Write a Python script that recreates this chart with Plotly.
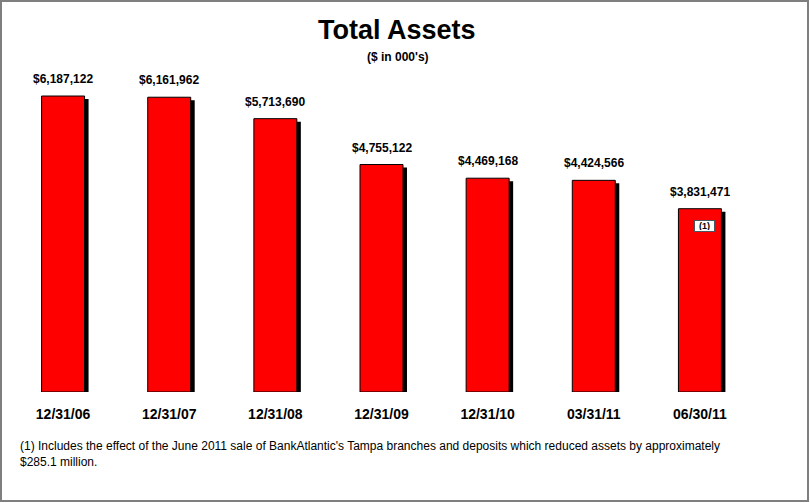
import plotly.graph_objects as go

categories = ["12/31/06", "12/31/07", "12/31/08", "12/31/09", "12/31/10", "03/31/11", "06/30/11"]
total_assets = [6187122, 6161962, 5713690, 4755122, 4469168, 4424566, 3831471]
value_labels = ["$6,187,122", "$6,161,962", "$5,713,690", "$4,755,122", "$4,469,168", "$4,424,566", "$3,831,471"]
footnote = ("(1) Includes the effect of the June 2011 sale of BankAtlantic's Tampa branches and deposits "
            "which reduced assets by approximately<br>$285.1 million.")

FONT = "Liberation Sans, Arial, sans-serif"
W, H = 810, 503
ML, MR, MT, MB = 10, 57, 60, 111
plot_w = W - ML - MR
plot_h = H - MT - MB
base_px = H - MB
y_top = 6940000
px_per_unit = plot_h / y_top


def px_x(px):
    return (px - ML) / plot_w


def px_y(py):
    return (base_px - py) / plot_h


bar_w = 0.405
shadow_dx = 4 / (plot_w / len(categories))
shadow_dy = 3 / px_per_unit

fig = go.Figure()
# drop shadow
fig.add_trace(go.Bar(
    x=categories, y=[v - shadow_dy for v in total_assets],
    width=bar_w, offset=-bar_w / 2 + shadow_dx,
    marker=dict(color="#000000", line=dict(width=0)),
    hoverinfo="skip", showlegend=False,
))
fig.add_trace(go.Bar(
    x=categories, y=total_assets,
    width=bar_w, offset=-bar_w / 2,
    marker=dict(color="#FF0000", line=dict(color="#000000", width=1)),
    showlegend=False,
))

annotations = []
for c, v, lab in zip(categories, total_assets, value_labels):
    annotations.append(dict(
        x=c, y=v, xref="x", yref="y", text="<b>" + lab + "</b>", showarrow=False,
        yanchor="bottom", yshift=8,
        font=dict(family=FONT, size=12, color="#000000"),
    ))
# note marker on last bar
annotations.append(dict(
    x=categories[-1], y=total_assets[-1], xref="x", yref="y", text="<b>(1)</b>", showarrow=False,
    yanchor="middle", xshift=5, yshift=-17, width=17, height=8,
    bgcolor="#FFFFFF", bordercolor="#4A5560", borderwidth=1, borderpad=1,
    font=dict(family=FONT, size=9, color="#000000"),
))
annotations.append(dict(
    x=px_x(397), y=px_y(30), xref="paper", yref="paper", text="<b>Total Assets</b>",
    showarrow=False, xanchor="center", yanchor="middle",
    font=dict(family=FONT, size=27, color="#000000"),
))
annotations.append(dict(
    x=px_x(398), y=px_y(57), xref="paper", yref="paper", text="<b>($ in 000's)</b>",
    showarrow=False, xanchor="center", yanchor="middle",
    font=dict(family=FONT, size=12, color="#000000"),
))
annotations.append(dict(
    x=px_x(18), y=px_y(437), xref="paper", yref="paper",
    text=footnote, showarrow=False, xanchor="left", yanchor="top", align="left",
    font=dict(family=FONT, size=12, color="#000000"),
))

frame = dict(
    type="rect", xref="paper", yref="paper",
    x0=px_x(1), x1=px_x(808),
    y0=px_y(501), y1=px_y(1),
    line=dict(color="#7F7F7F", width=2), fillcolor="rgba(0,0,0,0)", layer="above",
)

fig.update_layout(
    width=W, height=H,
    margin=dict(l=ML, r=MR, t=MT, b=MB, pad=0),
    paper_bgcolor="#FFFFFF", plot_bgcolor="#FFFFFF",
    barmode="overlay",
    annotations=annotations,
    shapes=[frame],
    xaxis=dict(
        type="category", range=[-0.5, len(categories) - 0.5],
        showgrid=False, zeroline=False, showline=False, ticks="",
        tickfont=dict(family=FONT, size=14, color="#000000", weight="bold"),
        ticklabelstandoff=12,
    ),
    yaxis=dict(range=[0, y_top], visible=False, showgrid=False, zeroline=False),
    font=dict(family=FONT),
)

fig.write_html("out.html", config={"displayModeBar": False},
               post_script="document.body.style.margin='0';")
